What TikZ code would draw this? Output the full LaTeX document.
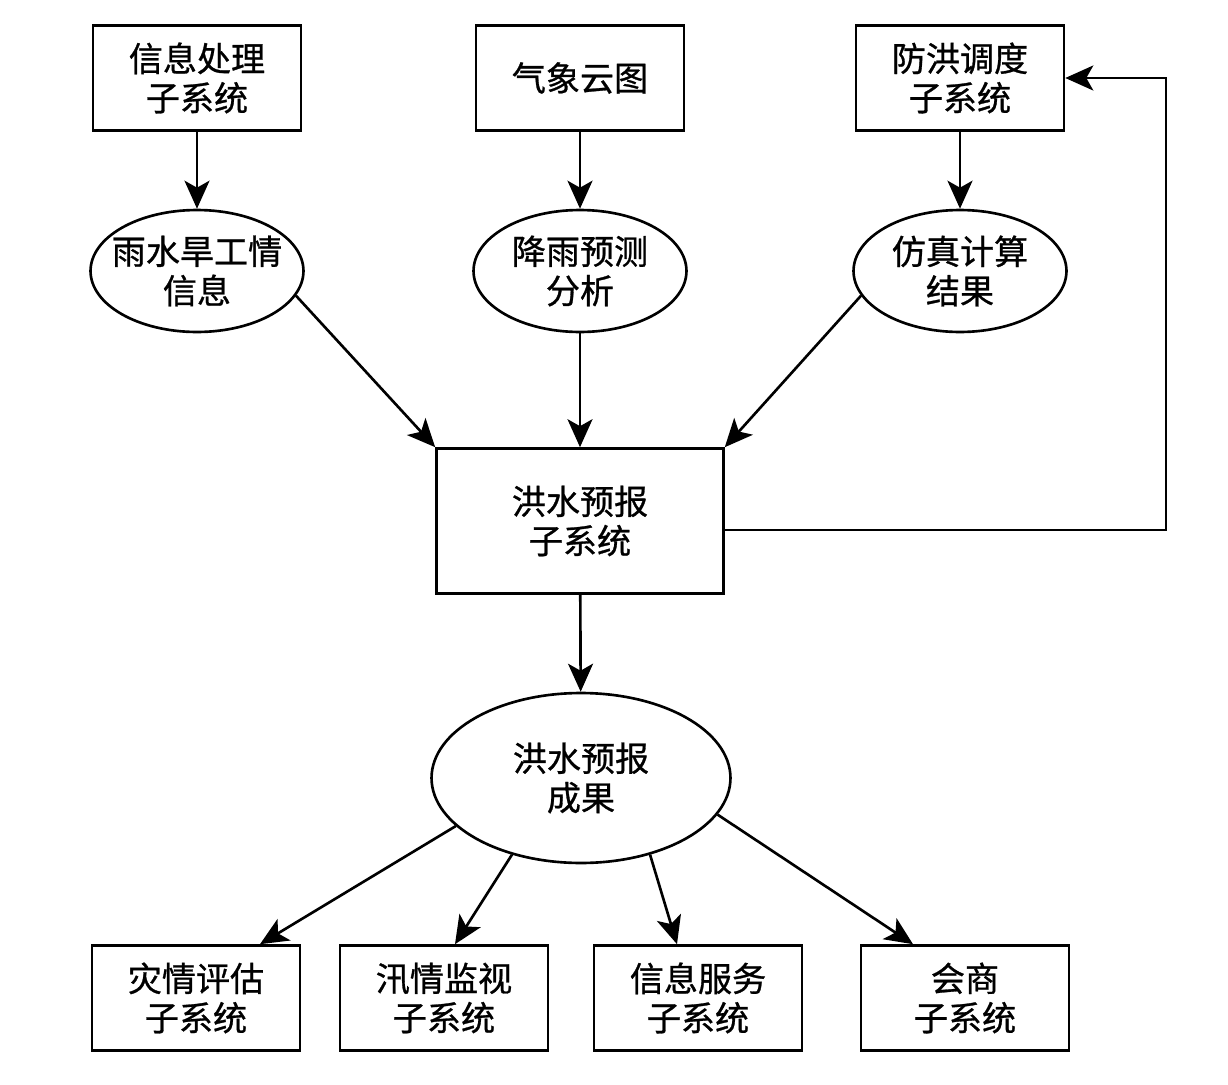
\documentclass[tikz,border=0pt]{standalone}
\usepackage{fontspec}
\setmainfont{Noto Sans CJK SC}[FakeBold=0.8,BoldFont=Noto Sans CJK SC]
\usetikzlibrary{positioning,arrows.meta,shapes.geometric,calc}
\newcommand{\cnfont}{\fontsize{19.4pt}{22.4pt}\selectfont\bfseries}
\tikzset{
  sysbox/.style={draw=black, line width=1.5pt, rectangle, inner sep=0pt, align=center,
    minimum width=4.16cm, minimum height=2.1cm, font=\cnfont},
  infoell/.style={draw=black, line width=1.5pt, ellipse, inner xsep=-0.3cm, inner ysep=0pt,
    align=center, minimum width=4.26cm, minimum height=2.44cm, font=\cnfont},
  flow/.style={line width=1.5pt, -{Stealth[length=0.56cm,width=0.5cm,inset=0.14cm]}}
}

\begin{document}
\begin{tikzpicture}[x=0.02cm, y=-0.02cm]
    \useasboundingbox (0,0) rectangle (1228,1085);

    % sources
    \node[sysbox] (b1) at (197,78) {信息处理\\子系统};
    \node[sysbox] (b2) at (580,78) {气象云图};
    \node[sysbox] (b3) at (960,78) {防洪调度\\子系统};

    \node[infoell] (e1) at (197,271) {雨水旱工情\\信息};
    \node[infoell] (e2) at (580,271) {降雨预测\\分析};
    \node[infoell] (e3) at (960,271) {仿真计算\\结果};

    \node[sysbox, minimum width=5.74cm, minimum height=2.9cm] (fc) at (580,521) {洪水预报\\子系统};
    \node[infoell, minimum width=5.98cm, minimum height=3.4cm] (res) at (581,778) {洪水预报\\成果};

    % users
    \node[sysbox] (d1) at (196,998) {灾情评估\\子系统};
    \node[sysbox] (d2) at (444,998) {汛情监视\\子系统};
    \node[sysbox] (d3) at (698,998) {信息服务\\子系统};
    \node[sysbox] (d4) at (965,998) {会商\\子系统};

    \draw[flow] (b1) -- (e1);
    \draw[flow] (b2) -- (e2);
    \draw[flow] (b3) -- (e3);

    \draw[flow] (e1.346) -- (fc.north west);
    \draw[flow] (e2) -- (fc);
    \draw[flow] (e3.194) -- (fc.north east);

    \coordinate (fb) at (1166,530);
    \draw[flow] (fc.east |- fb) -- (fb) |- (b3.east);

    \draw[flow] (fc) -- (res);

    \draw[flow] (res.201) -- ($(d1.north)+(64,0)$);
    \draw[flow] (res.228) -- ($(d2.north)+(11,0)$);
    \draw[flow] (res.312) -- ($(d3.north)+(-21,0)$);
    \draw[flow] (res.345) -- ($(d4.north)+(-52,0)$);
\end{tikzpicture}
\end{document}
